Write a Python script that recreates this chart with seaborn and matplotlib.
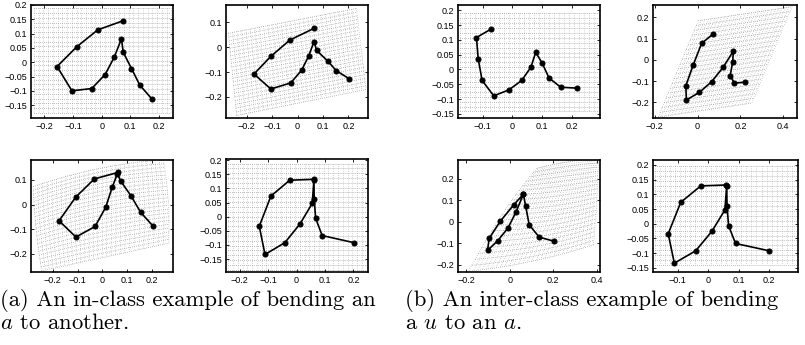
import numpy as np
import pandas as pd
import matplotlib
matplotlib.use("Agg")
import matplotlib.pyplot as plt
from matplotlib.ticker import FuncFormatter, FixedLocator
import seaborn as sns

# ---------------- data ----------------
# strokes: 13 sampled points per letter
p1_x = [0.075, -0.014, -0.087, -0.156, -0.104, -0.035, 0.012, 0.044, 0.069, 0.075, 0.104, 0.133, 0.174]
p1_y = [0.145, 0.113, 0.054, -0.015, -0.100, -0.092, -0.043, 0.018, 0.082, 0.035, -0.022, -0.080, -0.127]

p2_x = [0.065, -0.030, -0.105, -0.171, -0.105, -0.027, 0.016, 0.044, 0.065, 0.075, 0.118, 0.153, 0.203]
p2_y = [0.076, 0.029, -0.037, -0.108, -0.168, -0.144, -0.093, -0.035, 0.023, -0.013, -0.055, -0.095, -0.127]

p3_x = [0.064, -0.033, -0.108, -0.175, -0.107, -0.030, 0.013, 0.039, 0.060, 0.073, 0.115, 0.154, 0.205]
p3_y = [0.131, 0.104, 0.030, -0.066, -0.132, -0.089, -0.011, 0.070, 0.125, 0.096, 0.035, -0.032, -0.089]

target_x = [0.060, -0.024, -0.090, -0.131, -0.111, -0.041, 0.012, 0.055, 0.061, 0.062, 0.067, 0.090, 0.201]
target_y = [0.132, 0.129, 0.073, -0.034, -0.134, -0.092, -0.026, 0.047, 0.130, 0.062, -0.006, -0.067, -0.092]

u_x = [-0.073, -0.121, -0.115, -0.102, -0.063, -0.012, 0.031, 0.062, 0.078, 0.100, 0.123, 0.162, 0.216]
u_y = [0.136, 0.108, 0.035, -0.037, -0.089, -0.069, -0.037, 0.008, 0.058, 0.021, -0.029, -0.060, -0.063]

p6_x = [0.073, 0.019, -0.020, -0.055, -0.052, 0.008, 0.066, 0.120, 0.167, 0.164, 0.152, 0.172, 0.219]
p6_y = [0.122, 0.078, -0.023, -0.122, -0.188, -0.153, -0.102, -0.034, 0.042, -0.009, -0.075, -0.109, -0.105]

p7_x = [0.062, 0.017, -0.045, -0.095, -0.103, -0.056, -0.009, 0.029, 0.062, 0.073, 0.089, 0.135, 0.205]
p7_y = [0.128, 0.078, 0.001, -0.077, -0.134, -0.089, -0.030, 0.047, 0.128, 0.071, -0.015, -0.072, -0.092]

# deformation-grid control points: corners TL, TR, BL, BR, or a 3x3 array (top/mid/bottom rows)
grid_a = [(-0.237, 0.188), (0.243, 0.188), (-0.237, -0.177), (0.243, -0.177)]
grid_p2 = [(-0.272, 0.056), (0.231, 0.156), (-0.239, -0.275), (0.270, -0.170)]
grid_p3 = [[(-0.279, 0.073), (-0.010, 0.147), (0.245, 0.181)],
           [(-0.268, -0.096), (-0.010, -0.028), (0.265, 0.012)],
           [(-0.245, -0.269), (-0.010, -0.218), (0.265, -0.157)]]
grid_target_a = [(-0.240, 0.188), (0.246, 0.188), (-0.240, -0.188), (0.246, -0.188)]
grid_u = [(-0.177, 0.190), (0.289, 0.190), (-0.177, -0.142), (0.289, -0.142)]
grid_p6 = [(0.003, 0.184), (0.441, 0.250), (-0.184, -0.269), (0.253, -0.203)]
grid_p7 = [[(0.124, 0.249), (0.269, 0.280), (0.407, 0.295)],
           [(-0.037, 0.032), (0.190, 0.050), (0.400, 0.094)],
           [(-0.190, -0.232), (0.101, -0.185), (0.384, -0.108)]]
grid_p8 = [(-0.175, 0.196), (0.292, 0.196), (-0.175, -0.141), (0.292, -0.141)]

# axis limits and ticks
lims = {
    1: ((-0.247, 0.249), (-0.195, 0.200)),
    2: ((-0.281, 0.277), (-0.285, 0.170)),
    3: ((-0.288, 0.284), (-0.274, 0.181)),
    4: ((-0.248, 0.251), (-0.196, 0.204)),
    5: ((-0.183, 0.294), (-0.164, 0.218)),
    6: ((-0.208, 0.464), (-0.273, 0.258)),
    7: ((-0.239, 0.415), (-0.235, 0.288)),
    8: ((-0.181, 0.295), (-0.164, 0.217)),
}
xt_a = [-0.2, -0.1, 0, 0.1, 0.2]
xt_u = [-0.1, 0, 0.1, 0.2]
xt_w = [-0.2, 0, 0.2, 0.4]
yt_fine = [-0.15, -0.1, -0.05, 0, 0.05, 0.1, 0.15, 0.2]
yt_c1 = [-0.2, -0.1, 0, 0.1]
yt_c2 = [-0.2, -0.1, 0, 0.1, 0.2]
ticks = {1: (xt_a, yt_fine), 2: (xt_a, yt_c1), 3: (xt_a, yt_c1), 4: (xt_a, yt_fine),
         5: (xt_u, yt_fine), 6: (xt_w, yt_c2), 7: (xt_w, yt_c2), 8: (xt_u, yt_fine)}

captions = [("(a) An in-class example of bending an", "$a$ to another."),
            ("(b) An inter-class example of bending", "a $u$ to an $a$.")]

# ---------------- layout (pixels: left, top, right, bottom) ----------------
W, H = 805, 345
boxes = {1: (31, 5, 173, 118), 2: (226, 5, 368, 118), 3: (31, 160, 173, 272), 4: (226, 159, 368, 272),
         5: (458, 5, 600, 118), 6: (653, 5, 797, 118), 7: (458, 160, 600, 272), 8: (653, 160, 798, 272)}

strokes = {1: (p1_x, p1_y), 2: (p2_x, p2_y), 3: (p3_x, p3_y), 4: (target_x, target_y),
           5: (u_x, u_y), 6: (p6_x, p6_y), 7: (p7_x, p7_y), 8: (target_x, target_y)}
grids = {1: (grid_a, 30, 23), 2: (grid_p2, 30, 23), 3: (grid_p3, 30, 23), 4: (grid_target_a, 30, 23),
         5: (grid_u, 29, 21), 6: (grid_p6, 29, 21), 7: (grid_p7, 29, 21), 8: (grid_p8, 29, 21)}


def control3(g):
    if isinstance(g[0], list):
        return np.array(g, dtype=float)
    tl, tr, bl, br = [np.array(p, float) for p in g]
    top = [tl, (tl + tr) / 2, tr]
    bot = [bl, (bl + br) / 2, br]
    mid = [(a + b) / 2 for a, b in zip(top, bot)]
    return np.array([top, mid, bot])


def basis(t):
    return np.stack([2 * (t - 0.5) * (t - 1), -4 * t * (t - 1), 2 * t * (t - 0.5)])


def mesh(g, nu, nv):
    c = control3(g)
    u = np.linspace(0, 1, nu)
    v = np.linspace(0, 1, nv)
    bu, bv = basis(u), basis(v)
    X = np.einsum("iv,ju,ij->vu", bv, bu, c[:, :, 0])
    Y = np.einsum("iv,ju,ij->vu", bv, bu, c[:, :, 1])
    return X, Y


def fmt(v, pos):
    s = f"{v:g}"
    if s in ("-0", "0"):
        return "0"
    return s.replace("-", "\u2212")


fig = plt.figure(figsize=(W / 100, H / 100), dpi=100)
plt.rcParams["font.family"] = ["Liberation Sans", "DejaVu Sans"]
plt.rcParams["mathtext.fontset"] = "cm"

for k in range(1, 9):
    l, t, r, b = boxes[k]
    ax = fig.add_axes([l / W, 1 - b / H, (r - l) / W, (b - t) / H])
    g, nu, nv = grids[k]
    X, Y = mesh(g, nu, nv)
    row_style = dict(color="0.42", lw=0.55, ls=(0, (0.7, 1.9)), zorder=1)
    col_style = dict(color="0.52", lw=0.5, ls=(0, (0.7, 2.4)), zorder=1)
    for i in range(nv):
        ax.plot(X[i, :], Y[i, :], **row_style)
    for j in range(nu):
        ax.plot(X[:, j], Y[:, j], **col_style)
    sx, sy = strokes[k]
    df = pd.DataFrame({"x": sx, "y": sy})
    sns.lineplot(data=df, x="x", y="y", sort=False, estimator=None, color="black",
                 lw=1.2, marker="o", markersize=3.6, markeredgecolor="black", ax=ax, zorder=3)
    xl, yl = lims[k]
    ax.set_xlim(*xl)
    ax.set_ylim(*yl)
    xt, yt = ticks[k]
    ax.xaxis.set_major_locator(FixedLocator(xt))
    ax.yaxis.set_major_locator(FixedLocator(yt))
    ax.xaxis.set_major_formatter(FuncFormatter(fmt))
    ax.yaxis.set_major_formatter(FuncFormatter(fmt))
    ax.tick_params(direction="in", length=2.5, width=0.6, top=True, right=True,
                   labelsize=6.5, pad=3, colors="black")
    ax.set_xlabel("")
    ax.set_ylabel("")
    for sp in ax.spines.values():
        sp.set_linewidth(1.2)
        sp.set_color("black")

cap_x = [0, 405]
for (l1, l2), cx in zip(captions, cap_x):
    fig.text(cx / W, 1 - 306 / H, l1, fontfamily="cmr10", fontsize=16.3, va="baseline", ha="left")
    fig.text(cx / W, 1 - 329 / H, l2, fontfamily="cmr10", fontsize=16.3, va="baseline", ha="left")

fig.savefig("out.png", dpi=100)
